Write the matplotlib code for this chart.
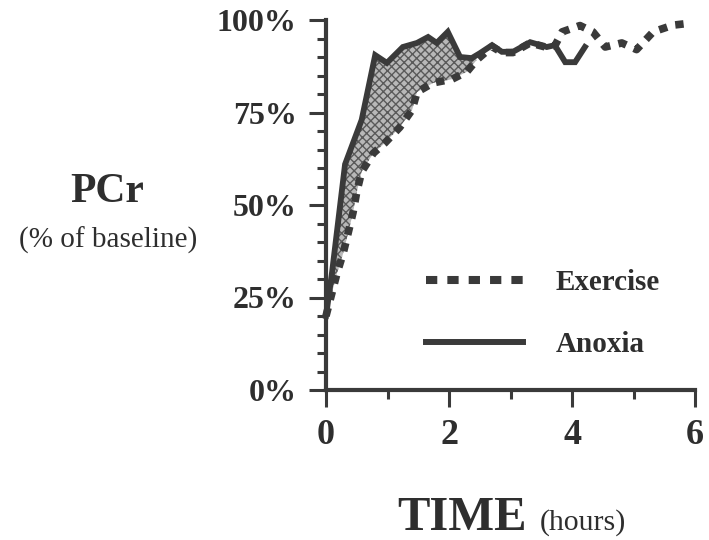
# PCr recovery after exercise vs anoxia
import matplotlib
matplotlib.use('Agg')
import matplotlib.pyplot as plt
from matplotlib.lines import Line2D
from matplotlib.ticker import MultipleLocator, FuncFormatter
import numpy as np

# --- Data ---
t_anoxia = [0, 0.1, 0.31, 0.58, 0.8, 0.99, 1.25, 1.48, 1.66, 1.8, 1.98, 2.18,
            2.37, 2.5, 2.7, 2.86, 3.04, 3.32, 3.59, 3.72, 3.89, 4.05, 4.21]
pcr_anoxia = [20, 32, 61, 73, 90.5, 88.4, 92.7, 93.8, 95.4, 93.8, 96.8, 90,
              89.7, 91, 93.2, 91.4, 91.4, 94, 92.7, 93.2, 88.6, 88.6, 92.7]

t_exercise = [0, 0.18, 0.28, 0.36, 0.44, 0.5, 0.58, 0.77, 0.96, 1.2, 1.4, 1.48,
              1.74, 2.05, 2.29, 2.45, 2.7, 2.86, 3.04, 3.32, 3.59, 3.72, 3.84,
              4.13, 4.34, 4.54, 4.81, 5.05, 5.32, 5.64, 5.95]
pcr_exercise = [20, 31.6, 37, 42.4, 48, 53.5, 59, 64, 66.8, 71, 75.7, 80.5,
                83, 84, 86, 89.2, 92.8, 91.2, 91.2, 93.8, 92.6, 93, 96.8,
                98.5, 96.8, 92.7, 93.8, 92, 96.8, 98.6, 99.2]

fill_until = 2.45  # curves merge here

ink = '#3a3a3a'
txt_col = '#2e2e2e'
serif = ['Liberation Serif', 'DejaVu Serif']

fig = plt.figure(figsize=(7.09, 5.40), dpi=100)
ax = fig.add_axes([326 / 709, 150 / 540, 369 / 709, 370 / 540])

# shaded gap between the two recoveries
ta = np.array(t_anoxia)
pa = np.array(pcr_anoxia)
te = np.array(t_exercise)
pe = np.array(pcr_exercise)
ma = ta <= fill_until
me = te <= fill_until
poly_x = np.concatenate([ta[ma], [te[me][-1]], te[me][::-1]])
poly_y = np.concatenate([pa[ma], [pe[me][-1]], pe[me][::-1]])
ax.fill(poly_x, poly_y, facecolor='#b8b8b8', edgecolor='#5a5a5a',
        hatch='xxxx', linewidth=0, zorder=1)

ax.plot(t_exercise, pcr_exercise, color=ink, linewidth=5.5,
        linestyle=(0, (1.1, 1.1)), dash_capstyle='butt',
        clip_on=False, zorder=3)
ax.plot(t_anoxia, pcr_anoxia, color=ink, linewidth=4.2,
        solid_joinstyle='miter', clip_on=False, zorder=4)

ax.set_xlim(0, 6)
ax.set_ylim(0, 100)

for s in ('top', 'right'):
    ax.spines[s].set_visible(False)
for s in ('left', 'bottom'):
    ax.spines[s].set_linewidth(3)
    ax.spines[s].set_color(ink)

ax.xaxis.set_major_locator(MultipleLocator(2))
ax.xaxis.set_minor_locator(MultipleLocator(1))
ax.yaxis.set_major_locator(MultipleLocator(25))
ax.yaxis.set_minor_locator(MultipleLocator(5))
ax.yaxis.set_major_formatter(FuncFormatter(lambda v, p: f"{int(v)}%"))
ax.tick_params(which='major', length=12, width=2.2, color=ink, pad=9,
               labelsize=23, labelcolor=txt_col)
ax.tick_params(axis='x', which='major', pad=9, labelsize=26)
ax.tick_params(which='minor', length=6.5, width=2.2, color=ink)
for lab in ax.get_xticklabels() + ax.get_yticklabels():
    lab.set_fontfamily(serif)
    lab.set_fontweight('bold')

# legend samples are drawn a bit heavier than the curves
handles = [
    Line2D([], [], color=ink, linewidth=5.8, linestyle=(0, (1.4, 1.25)),
           dash_capstyle='butt', label='Exercise'),
    Line2D([], [], color=ink, linewidth=4.3, label='Anoxia'),
]
leg = ax.legend(handles=handles, loc='upper left',
                bbox_to_anchor=(400 / 709, 1 - 243 / 540),
                bbox_transform=fig.transFigure, frameon=False,
                handlelength=3.3, handletextpad=1.15, labelspacing=1.2,
                prop={'family': serif, 'weight': 'bold', 'size': 21})
for txt in leg.get_texts():
    txt.set_color(txt_col)

# axis titles
fig.text(107 / 709, 1 - 192 / 540, 'PCr', ha='center', va='center',
         family=serif, weight='bold', size=30, color=txt_col)
fig.text(108 / 709, 1 - 240 / 540, '(% of baseline)', ha='center', va='center',
         family=serif, size=21, color=txt_col)
fig.text(397 / 709, 1 - 530 / 540, 'TIME', ha='left', va='baseline',
         family=serif, weight='bold', size=35, color=txt_col)
fig.text(540 / 709, 1 - 530 / 540, '(hours)', ha='left', va='baseline',
         family=serif, size=21.5, color=txt_col)

fig.savefig('out.png', dpi=100)
plt.close(fig)
